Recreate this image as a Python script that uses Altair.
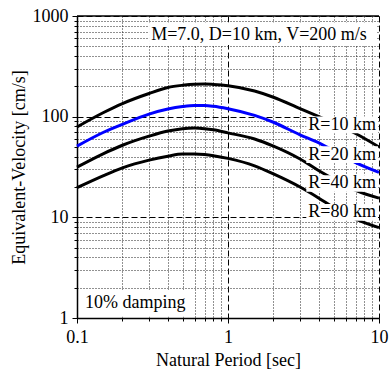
import altair as alt
import pandas as pd

# ---- data ----
periods = [0.1, 0.15, 0.2, 0.3, 0.4, 0.5, 0.6, 0.7, 0.8, 1.0, 1.5, 2.0, 3.0, 4.0, 5.0, 7.0, 10.0]
vel_r10 = [79, 110, 135, 170, 195, 205, 210, 211, 209, 203, 180, 156, 120, 100, 87, 68, 50]
vel_r20 = [51, 70, 84, 106, 119, 126, 129, 129, 127, 120, 103, 88, 66, 55, 46, 35, 28]
vel_r40 = [31.5, 43, 52, 64, 72, 76, 77, 76, 74, 69, 60, 51, 38, 29, 24, 18.5, 15.5]
vel_r80 = [19.7, 26, 31, 37, 40.5, 42.5, 42.5, 42, 41, 38.5, 32.5, 27, 20, 15.5, 12.5, 9.6, 7.9]

curve_names = ["R=10 km", "R=20 km", "R=40 km", "R=80 km"]
curve_colors = ["black", "blue", "black", "black"]
curve_values = [vel_r10, vel_r20, vel_r40, vel_r80]

label_x = [3.4, 3.4, 3.4, 3.4]
label_y = [83.0, 42.0, 21.7, 11.2]

note_texts = ["M=7.0, D=10 km, V=200 m/s", "10% damping"]
note_x = [0.31, 0.113]
note_y = [650, 1.40]
note_box_x = [0.30, 0.105]
note_box_x2 = [9.6, 0.52]
note_box_y = [515, 1.03]
note_box_y2 = [860, 1.9]

x_major = [0.1, 1, 10]
x_minor = [0.2, 0.3, 0.4, 0.5, 0.6, 0.7, 0.8, 0.9, 2, 3, 4, 5, 6, 7, 8, 9]
y_major = [1, 10, 100, 1000]
y_minor = [2, 3, 4, 5, 6, 7, 8, 9, 20, 30, 40, 50, 60, 70, 80, 90,
           200, 300, 400, 500, 600, 700, 800, 900]

FONT = "Liberation Serif"

rows = []
for name, vals in zip(curve_names, curve_values):
    for p, v in zip(periods, vals):
        rows.append({"period": p, "vel": v, "name": name})
curves_df = pd.DataFrame(rows)

labels_df = pd.DataFrame({"name": curve_names, "x": label_x, "y": label_y})
labels_df["x1"] = 3.3
labels_df["x2"] = 9.85
labels_df["y1"] = labels_df["y"] / 1.21
labels_df["y2"] = labels_df["y"] * 1.21

notes_df = pd.DataFrame({"text": note_texts, "x": note_x, "y": note_y,
                         "bx": note_box_x, "bx2": note_box_x2,
                         "by": note_box_y, "by2": note_box_y2})


def axis(vals_major, vals_minor, title, label_pad, title_pad):
    major_list = ",".join(str(v) for v in vals_major)
    test = f"indexof([{major_list}], datum.value) >= 0"
    return alt.Axis(
        values=sorted(vals_major + vals_minor),
        title=title,
        format="~g",
        labelExpr=f"{test} ? datum.label : ''",
        grid=True,
        gridDash={"condition": {"test": test, "value": [6, 3]}, "value": [1, 2]},
        gridColor={"condition": {"test": test, "value": "#000000"}, "value": "#222222"},
        gridWidth=1,
        tickSize={"condition": {"test": test, "value": 5}, "value": 3},
        tickColor="black",
        domainColor="black",
        domainWidth=1.5,
        labelFont=FONT,
        labelFontSize=18,
        labelColor="black",
        labelPadding=label_pad,
        titleFont=FONT,
        titleFontSize=18,
        titleFontWeight="normal",
        titleColor="black",
        titlePadding=title_pad,
        labelFlush=False,
        labelOverlap=False,
    )


xscale = alt.Scale(type="log", domain=[0.1, 10], nice=False)
yscale = alt.Scale(type="log", domain=[1, 1000], nice=False)

xaxis = axis(x_major, x_minor, "Natural Period [sec]", 5, 5)
yaxis = axis(y_major, y_minor, "Equivalent-Velocity [cm/s]", 4, 4)

lines = alt.Chart(curves_df).mark_line(strokeWidth=3, interpolate="monotone").encode(
    x=alt.X("period:Q", scale=xscale, axis=xaxis),
    y=alt.Y("vel:Q", scale=yscale, axis=yaxis),
    color=alt.Color("name:N", scale=alt.Scale(domain=curve_names, range=curve_colors), legend=None),
    detail="name:N",
)

label_boxes = alt.Chart(labels_df).mark_rect(fill="white").encode(
    x="x1:Q", x2="x2", y="y1:Q", y2="y2"
)
label_text = alt.Chart(labels_df).mark_text(
    align="left", baseline="middle", font=FONT, fontSize=18, color="black"
).encode(x="x:Q", y="y:Q", text="name:N")

note_boxes = alt.Chart(notes_df).mark_rect(fill="white").encode(
    x="bx:Q", x2="bx2", y="by:Q", y2="by2"
)
note_text = alt.Chart(notes_df).mark_text(
    align="left", baseline="middle", font=FONT, fontSize=18, color="black"
).encode(x="x:Q", y="y:Q", text="text:N")

top_rule = alt.Chart(pd.DataFrame({"v": [1000]})).mark_rule(color="black", strokeWidth=1.5).encode(
    y="v:Q"
)

chart = alt.layer(lines, label_boxes, label_text, note_boxes, note_text, top_rule).properties(
    width=302,
    height=302,
    autosize=alt.AutoSizeParams(type="none"),
    padding={"left": 77, "top": 16, "right": 10, "bottom": 58},
    background="white",
).configure_view(stroke=None)

chart.save("out.html", embed_options={"renderer": "svg", "actions": False})
